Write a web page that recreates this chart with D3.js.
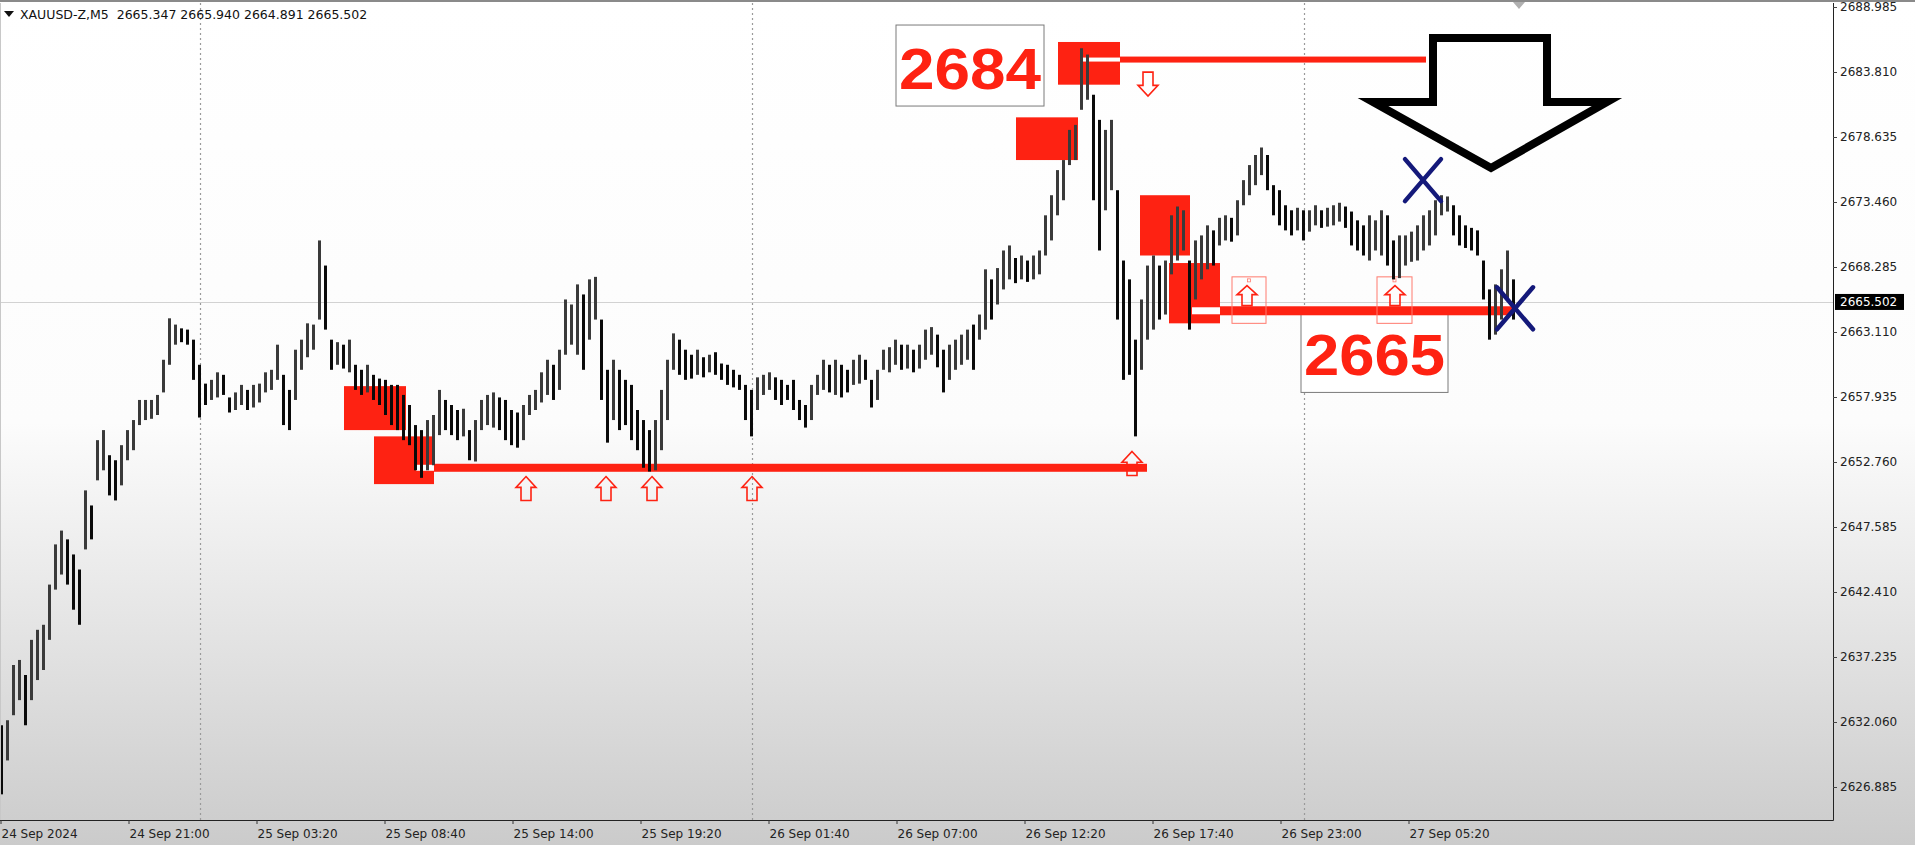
<!DOCTYPE html>
<html><head><meta charset="utf-8">
<script src="https://cdn.jsdelivr.net/npm/d3@7"></script>
<style>html,body{margin:0;padding:0;background:#fff;overflow:hidden}</style>
</head><body>
<svg id="c" width="1915" height="845"></svg>
<script>
// ---------- data ----------
const symbolHeader = "XAUUSD-Z,M5  2665.347 2665.940 2664.891 2665.502";
const timeLabels = ["24 Sep 2024","24 Sep 21:00","25 Sep 03:20","25 Sep 08:40","25 Sep 14:00","25 Sep 19:20","26 Sep 01:40","26 Sep 07:00","26 Sep 12:20","26 Sep 17:40","26 Sep 23:00","27 Sep 05:20"];
const timeTickBars = [0,64,128,192,256,320,384,448,512,576,640,704];
const daySeparatorBars = [100,376,652];
const priceTicks = [2688.985,2683.810,2678.635,2673.460,2668.285,2663.110,2657.935,2652.760,2647.585,2642.410,2637.235,2632.060,2626.885];
const lastPrice = 2665.502;
const barsPerPoint = 3;

const highs = [
2631.8,2632.2,2636.6,2637.0,2635.8,2638.6,2639.4,2639.8,2643.0,2646.2,
2647.3,2646.6,2645.4,2644.2,2650.5,2649.3,2654.5,2655.3,2653.3,2652.9,
2654.1,2655.3,2656.1,2657.7,2657.7,2657.7,2658.1,2660.9,2664.2,2663.7,
2663.4,2663.3,2662.5,2660.5,2659.0,2659.3,2659.9,2659.7,2657.9,2658.3,
2658.9,2658.5,2658.9,2659.0,2659.9,2660.1,2662.1,2659.7,2658.5,2661.7,
2662.5,2663.8,2663.7,2670.4,2668.4,2662.5,2662.3,2662.1,2662.5,2660.5,
2660.1,2660.5,2659.7,2659.4,2659.3,2658.9,2658.9,2658.1,2657.3,2655.7,
2655.3,2656.1,2656.5,2658.5,2657.7,2657.3,2656.9,2657.0,2655.3,2656.1,
2657.7,2658.1,2658.3,2657.9,2657.7,2656.9,2656.7,2657.3,2658.1,2658.5,
2659.9,2660.9,2660.5,2661.7,2665.7,2665.3,2666.9,2666.1,2667.3,2667.5,
2664.1,2660.1,2660.9,2660.1,2659.3,2658.9,2656.9,2656.1,2655.3,2656.1,
2658.5,2660.9,2663.0,2662.5,2661.7,2661.3,2661.7,2661.1,2661.3,2661.5,
2660.6,2660.5,2660.1,2659.7,2658.9,2658.5,2659.5,2659.7,2659.9,2659.5,
2659.3,2658.9,2659.3,2657.7,2657.3,2658.9,2659.7,2660.9,2660.5,2660.9,
2660.5,2660.1,2660.9,2661.3,2660.9,2659.3,2660.1,2661.7,2661.9,2662.5,
2662.1,2662.1,2661.7,2662.1,2663.3,2663.5,2662.9,2661.7,2662.1,2662.5,
2662.9,2663.3,2663.7,2664.5,2668.1,2667.3,2668.2,2669.6,2670.0,2669.0,
2669.2,2668.8,2669.2,2669.6,2672.4,2674.0,2676.0,2676.8,2679.2,2679.6,
2685.7,2685.2,2682.0,2680.0,2679.2,2680.0,2674.4,2668.8,2667.3,2662.5,
2665.7,2668.4,2669.2,2668.4,2668.8,2672.4,2673.1,2672.8,2668.8,2670.4,
2670.8,2671.6,2671.2,2672.2,2672.4,2672.2,2673.6,2675.2,2676.4,2677.2,
2677.8,2677.2,2674.8,2674.4,2673.2,2672.8,2673.0,2672.8,2672.8,2673.2,
2672.8,2673.0,2673.2,2673.4,2673.1,2672.7,2672.0,2671.6,2672.4,2672.0,
2672.8,2672.4,2670.4,2670.8,2670.8,2671.1,2671.6,2672.4,2672.8,2673.6,
2674.0,2673.9,2673.2,2672.4,2671.6,2671.4,2671.2,2668.8,2666.5,2666.9,
2668.1,2669.6,2667.3];
const lows = [
2626.3,2629.0,2632.6,2633.8,2631.8,2633.8,2635.4,2636.2,2638.6,2642.6,
2643.8,2643.0,2641.0,2639.8,2645.8,2646.6,2651.3,2652.1,2650.1,2649.7,
2650.9,2652.9,2653.7,2655.7,2656.1,2656.2,2656.5,2658.3,2660.5,2662.1,
2662.3,2662.1,2659.3,2656.3,2657.3,2657.7,2657.9,2658.1,2656.7,2656.9,
2657.3,2656.9,2657.1,2657.5,2658.3,2658.5,2659.3,2655.7,2655.3,2657.7,
2660.1,2661.1,2661.7,2664.1,2663.3,2660.1,2660.5,2660.2,2659.9,2658.5,
2658.1,2658.3,2657.7,2657.3,2656.5,2655.7,2655.3,2654.5,2654.1,2652.1,
2651.5,2652.1,2652.5,2654.9,2655.3,2654.9,2654.5,2654.8,2652.9,2652.8,
2655.3,2655.7,2655.5,2655.3,2654.5,2654.1,2653.9,2654.5,2656.5,2656.9,
2657.5,2658.1,2657.7,2658.5,2661.3,2662.1,2661.3,2660.1,2662.5,2664.1,
2657.7,2654.3,2656.1,2655.3,2655.7,2654.5,2653.7,2652.3,2652.0,2652.1,
2653.7,2656.1,2660.1,2659.7,2659.3,2659.4,2659.7,2659.5,2659.9,2659.7,
2659.3,2658.9,2658.7,2658.5,2656.1,2654.8,2656.9,2658.1,2658.5,2657.7,
2657.3,2657.7,2656.9,2656.1,2655.5,2656.1,2658.1,2658.5,2658.3,2658.1,
2657.9,2658.3,2658.9,2659.0,2659.3,2657.1,2657.7,2660.1,2659.9,2660.5,
2660.1,2660.2,2659.9,2660.2,2660.9,2661.3,2660.3,2658.3,2659.3,2660.1,
2660.5,2660.9,2660.1,2662.5,2663.3,2664.1,2665.3,2666.5,2667.3,2667.0,
2667.3,2667.1,2667.3,2667.7,2669.2,2670.4,2672.4,2673.6,2676.4,2676.8,
2680.8,2681.6,2673.6,2669.6,2672.8,2674.4,2664.1,2659.3,2659.7,2654.8,
2660.1,2662.5,2663.3,2664.1,2664.5,2667.7,2668.8,2669.6,2663.3,2665.7,
2667.3,2668.1,2668.4,2670.0,2670.4,2670.3,2670.8,2673.2,2674.0,2674.8,
2675.6,2674.4,2672.4,2671.6,2671.2,2670.8,2671.2,2670.4,2671.1,2671.6,
2671.4,2671.5,2671.6,2671.9,2671.4,2670.0,2669.6,2669.2,2668.8,2669.6,
2669.2,2668.4,2667.3,2667.4,2668.4,2668.7,2668.8,2669.6,2670.0,2670.8,
2672.4,2672.7,2670.8,2670.0,2669.8,2669.6,2669.2,2665.7,2662.5,2662.9,
2664.1,2665.7,2664.1];

// annotations in (bar index, price) coordinates
const zones = [
  {b0:172, b1:203, top:2658.8, bot:2655.3},
  {b0:187, b1:217, top:2654.8, bot:2651.0},
  {b0:508, b1:539, top:2680.2, bot:2676.8},
  {b0:529, b1:560, top:2686.2, bot:2682.8},
  {b0:570, b1:595, top:2674.0, bot:2669.2},
  {b0:584.5, b1:610, top:2668.6, bot:2663.8}
];
const levels = [
  {from:208, start:217, to:573.5, price:2652.3, w:8},
  {from:540, start:560, to:713, price:2684.8, w:6},
  {from:596, start:610, to:756, price:2664.8, w:9}
];
const upArrows = [
  {bar:263, price:2651.6},{bar:303, price:2651.6},{bar:326, price:2651.6},
  {bar:376, price:2651.6},{bar:566, price:2653.6}
];
const downArrows = [{bar:574, price:2683.8}];
const signalBoxes = [
  {b0:616, b1:633, top:2667.5, bot:2663.8, abar:623.5, aprice:2666.8},
  {b0:688.5, b1:706, top:2667.5, bot:2663.8, abar:697.5, aprice:2666.8}
];
const textLabels = [
  {text:"2684", b0:448, b1:522, top:2687.55, bot:2681.1},
  {text:"2665", b0:650.5, b1:724, top:2664.6, bot:2658.3}
];
const crossMarks = [{bar:711.5, price:2675.2},{bar:757.5, price:2665.0}];
const bigArrow = [[716.5,2686.52],[773.5,2686.52],[773.5,2681.42],[803.5,2681.42],[745.5,2676.17],[686.5,2681.42],[716.5,2681.42]];

// ---------- drawing ----------
const RED = "#fe2212";
const svg = d3.select("#c");
const W = 1915, H = 845;
const plotRight = 1833, plotBottom = 820, plotTop = 3;
const x = d3.scaleLinear().domain([0, 916.5]).range([0, plotRight]);
const y = d3.scaleLinear().domain([2626.885, 2688.985]).range([787, 7]);

const defs = svg.append("defs");
const grad = defs.append("linearGradient").attr("id","bg").attr("x1",0).attr("y1",0).attr("x2",0).attr("y2",1);
grad.append("stop").attr("offset","0%").attr("stop-color","#ffffff");
grad.append("stop").attr("offset","50%").attr("stop-color","#fcfcfc");
grad.append("stop").attr("offset","100%").attr("stop-color","#cbcbcb");
svg.append("rect").attr("width",W).attr("height",H).attr("fill","url(#bg)");
svg.append("rect").attr("width",W).attr("height",2).attr("fill","#8a8a8a");

// grid
svg.append("line").attr("x1",0).attr("x2",plotRight).attr("y1",Math.round(y(lastPrice))+0.5).attr("y2",Math.round(y(lastPrice))+0.5)
  .attr("stroke","#d2d2d2").attr("stroke-width",1);
svg.append("g").selectAll("line").data(daySeparatorBars).join("line")
  .attr("x1",d=>Math.round(x(d))+0.5).attr("x2",d=>Math.round(x(d))+0.5)
  .attr("y1",plotTop).attr("y2",plotBottom)
  .attr("stroke","#9a9a9a").attr("stroke-width",1.2).attr("stroke-dasharray","2,3");

// text label boxes
const tl = svg.append("g").selectAll("g").data(textLabels).join("g");
tl.append("rect").attr("x",d=>x(d.b0)).attr("y",d=>y(d.top))
  .attr("width",d=>x(d.b1)-x(d.b0)).attr("height",d=>y(d.bot)-y(d.top))
  .attr("fill","#fff").attr("stroke","#7a7a7a").attr("stroke-width",1);
tl.append("text").attr("x",d=>x(d.b0)+3).attr("y",d=>y(d.bot)-17)
  .attr("textLength",d=>x(d.b1)-x(d.b0)-6).attr("lengthAdjust","spacingAndGlyphs")
  .attr("font-family","Liberation Sans, Arial, sans-serif").attr("font-weight","bold")
  .attr("font-size",58).attr("fill",RED).text(d=>d.text);

// zones
svg.append("g").selectAll("rect").data(zones).join("rect")
  .attr("x",d=>x(d.b0)).attr("y",d=>y(d.top))
  .attr("width",d=>x(d.b1)-x(d.b0)).attr("height",d=>y(d.bot)-y(d.top))
  .attr("fill",RED);

// levels
const lv = svg.append("g");
lv.selectAll("rect.w").data(levels).join("rect").attr("class","w")
  .attr("x",d=>x(d.from)).attr("y",d=>y(d.price)-d.w/2+1)
  .attr("width",d=>x(d.start)-x(d.from)).attr("height",d=>d.w-2).attr("fill","#fff");
lv.selectAll("rect.r").data(levels).join("rect").attr("class","r")
  .attr("x",d=>x(d.start)).attr("y",d=>y(d.price)-d.w/2)
  .attr("width",d=>x(d.to)-x(d.start)).attr("height",d=>d.w).attr("fill",RED);

// signal boxes
const sb = svg.append("g").selectAll("g").data(signalBoxes).join("g");
sb.append("rect").attr("x",d=>x(d.b0)).attr("y",d=>y(d.top))
  .attr("width",d=>x(d.b1)-x(d.b0)).attr("height",d=>y(d.bot)-y(d.top))
  .attr("fill","none").attr("stroke","#ff7a6e").attr("stroke-width",1);
sb.append("rect").attr("x",d=>x((d.b0+d.b1)/2)-1.5).attr("y",d=>y(d.top)+2).attr("width",3).attr("height",3)
  .attr("fill","none").attr("stroke","#ff7a6e").attr("stroke-width",0.8);

// price bars (hi-lo lines, shade by direction of the bar midpoint)
svg.append("g").selectAll("line").data(highs).join("line")
  .attr("x1",(d,i)=>Math.round(x(i*barsPerPoint))+1.5).attr("x2",(d,i)=>Math.round(x(i*barsPerPoint))+1.5)
  .attr("y1",d=>y(d)).attr("y2",(d,i)=>y(lows[i]))
  .attr("stroke",(d,i)=> i>0 && (d+lows[i]) > (highs[i-1]+lows[i-1]) ? "#3a3a3a" : "#0a0a0a")
  .attr("stroke-width",3);

// arrows
function upPath(cx, top, w, h){
  const hw=w/2, sw=w/4, hh=h*0.45;
  return `M${cx},${top} L${cx+hw},${top+hh} L${cx+sw},${top+hh} L${cx+sw},${top+h} L${cx-sw},${top+h} L${cx-sw},${top+hh} L${cx-hw},${top+hh} Z`;
}
function downPath(cx, top, w, h){
  const hw=w/2, sw=w/4, hh=h*0.55, b=top+h;
  return `M${cx-sw},${top} L${cx+sw},${top} L${cx+sw},${top+hh} L${cx+hw},${top+hh} L${cx},${b} L${cx-hw},${top+hh} L${cx-sw},${top+hh} Z`;
}
svg.append("g").selectAll("path").data(upArrows).join("path")
  .attr("d",d=>upPath(x(d.bar), y(d.price), 20, 24))
  .attr("fill","none").attr("stroke",RED).attr("stroke-width",1.6);
svg.append("g").selectAll("path").data(downArrows).join("path")
  .attr("d",d=>downPath(x(d.bar), y(d.price), 20, 24))
  .attr("fill","none").attr("stroke",RED).attr("stroke-width",1.6);
svg.append("g").selectAll("path").data(signalBoxes).join("path")
  .attr("d",d=>upPath(x(d.abar), y(d.aprice), 20, 20))
  .attr("fill","none").attr("stroke",RED).attr("stroke-width",1.6);

// cross marks
const cm = svg.append("g").selectAll("g").data(crossMarks).join("g")
  .attr("transform",d=>`translate(${x(d.bar)},${y(d.price)})`);
cm.append("line").attr("x1",-18).attr("y1",-21).attr("x2",18).attr("y2",21);
cm.append("line").attr("x1",18).attr("y1",-21).attr("x2",-18).attr("y2",21);
cm.selectAll("line").attr("stroke","#14197a").attr("stroke-width",4.5).attr("stroke-linecap","round");

// big hollow down arrow
svg.append("path").datum(bigArrow)
  .attr("d",d3.line().x(p=>x(p[0])).y(p=>y(p[1])).curve(d3.curveLinearClosed))
  .attr("fill","none").attr("stroke","#000").attr("stroke-width",8).attr("stroke-linejoin","miter");

// frame
svg.append("line").attr("x1",plotRight+0.5).attr("x2",plotRight+0.5).attr("y1",plotTop).attr("y2",plotBottom+0.5).attr("stroke","#222");
svg.append("line").attr("x1",0).attr("x2",plotRight+0.5).attr("y1",plotBottom+0.5).attr("y2",plotBottom+0.5).attr("stroke","#222");
svg.append("line").attr("x1",0.5).attr("x2",0.5).attr("y1",plotTop).attr("y2",plotBottom).attr("stroke","#c8c8c8");

// right axis
const ya = svg.append("g").attr("transform",`translate(${plotRight},0)`)
  .call(d3.axisRight(y).tickValues(priceTicks).tickSize(4).tickPadding(3).tickFormat(d3.format(".3f")));
ya.select(".domain").remove();
ya.selectAll("line").attr("stroke","#444");
ya.selectAll("text").attr("font-family","DejaVu Sans, sans-serif").attr("font-size",12).attr("fill","#222");

// last price tag
const lp = svg.append("g");
lp.append("rect").attr("x",1835).attr("y",y(lastPrice)-8).attr("width",69).attr("height",16).attr("fill","#000");
lp.append("text").attr("x",1840).attr("y",y(lastPrice)).attr("dy","0.35em")
  .attr("font-family","DejaVu Sans, sans-serif").attr("font-size",12).attr("fill","#fff").text(d3.format(".3f")(lastPrice));

// bottom axis
const xa = svg.append("g").attr("transform",`translate(0,${plotBottom})`)
  .call(d3.axisBottom(x).tickValues(timeTickBars).tickSize(4).tickFormat((d,i)=>timeLabels[i]));
xa.select(".domain").remove();
xa.selectAll("line").attr("stroke","#333").attr("transform","translate(0.5,0)");
xa.selectAll("text").attr("text-anchor","start").attr("x",1).attr("y",9)
  .attr("font-family","DejaVu Sans, sans-serif").attr("font-size",12).attr("fill","#222");

// header
svg.append("path").attr("d","M4,11 L14,11 L9,17 Z").attr("fill","#111");
svg.append("text").attr("x",20).attr("y",19).style("white-space","pre")
  .attr("font-family","DejaVu Sans, sans-serif").attr("font-size",12.5).attr("fill","#111").text(symbolHeader);

// small shift marker at top
svg.append("path").attr("d","M1513,2 L1525,2 L1519,9 Z").attr("fill","#b0b0b0");
</script>
</body></html>
